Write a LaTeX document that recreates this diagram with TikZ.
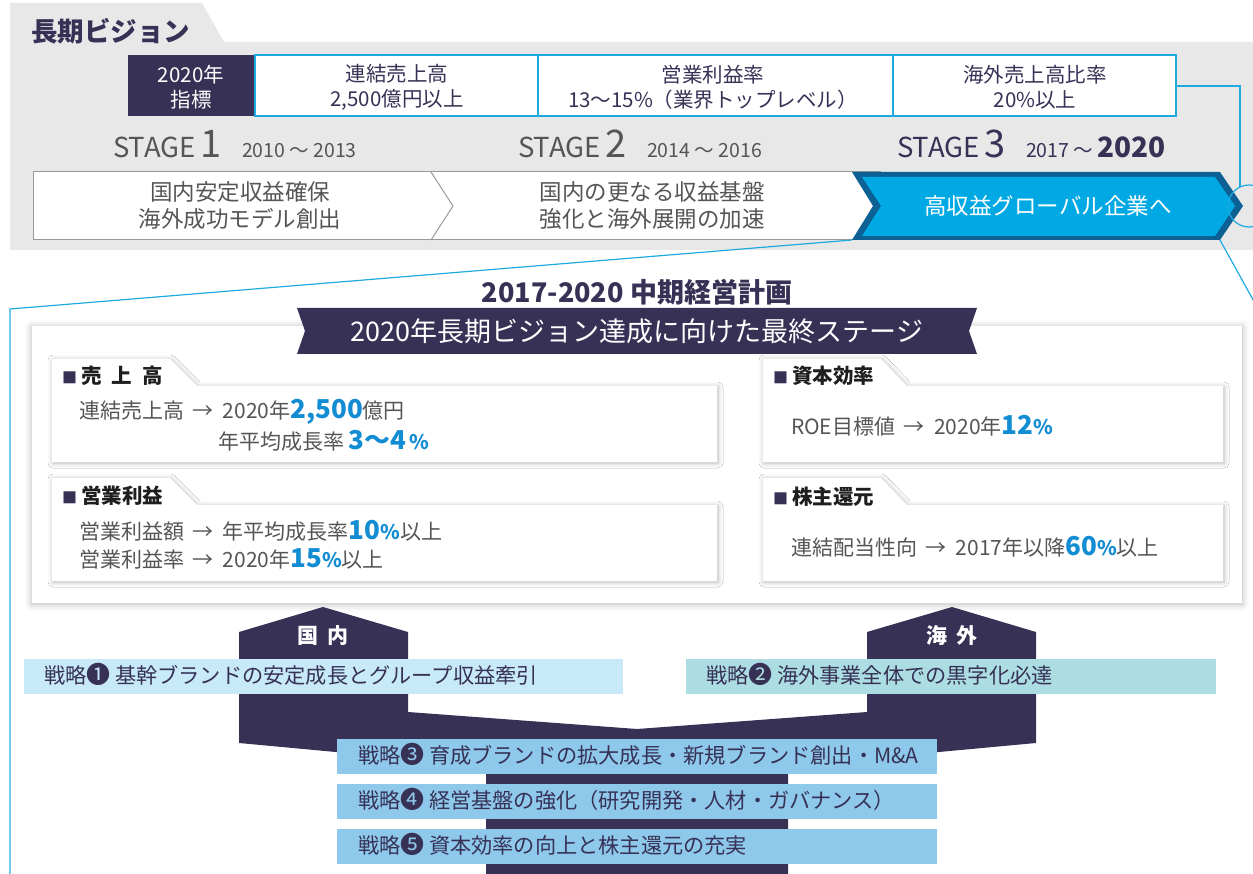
\documentclass[tikz,border=0pt]{standalone}
\usepackage{fontspec}
\setmainfont{Noto Sans CJK JP}
\usetikzlibrary{shadows.blur}
\definecolor{navy}{RGB}{54,49,85}
\definecolor{panelgrey}{RGB}{232,232,232}
\definecolor{lineblue}{RGB}{30,170,225}
\definecolor{arrowblue}{RGB}{0,168,228}
\definecolor{arrowdark}{RGB}{12,96,148}
\definecolor{emph}{RGB}{18,140,210}
\definecolor{txtgray}{RGB}{85,85,85}
\definecolor{headblack}{RGB}{30,30,30}
\definecolor{barone}{RGB}{199,233,248}
\definecolor{bartwo}{RGB}{172,221,226}
\definecolor{barthree}{RGB}{142,200,235}
\newcommand{\myfs}[2]{\fontsize{#1}{#2}\selectfont}
\newcommand{\hiemph}[2]{{\color{emph}\bfseries\myfs{26}{30}#1\myfs{20}{24}#2}}
\newcommand{\toarr}{\hspace{0.4em}→\hspace{0.45em}}
\newcommand{\sqmark}{{\color{navy}\myfs{15}{15}■}\hspace{0.2em}}
\newcommand{\cnum}[1]{{\myfs{24}{24}#1}}
\begin{document}
\begin{tikzpicture}[x=1pt,y=-1pt,
  every node/.style={inner sep=0pt,outer sep=0pt},
  tbl/.style={font=\myfs{20.5}{25},text=navy,align=center},
  stg/.style={anchor=base west,font=\myfs{27.5}{30},text=txtgray},
  yrs/.style={anchor=base west,font=\myfs{19.5}{22},text=txtgray},
  boxtxt/.style={font=\myfs{22.5}{27},text=txtgray,align=center},
  head/.style={anchor=base west,font=\bfseries\myfs{20.5}{24},text=headblack},
  body/.style={anchor=base west,font=\myfs{21}{24},text=txtgray},
  strat/.style={anchor=base west,font=\myfs{21.2}{24},text=navy},
  panelshadow/.style={blur shadow={shadow blur radius=7pt,shadow xshift=0pt,shadow yshift=-1pt,shadow opacity=30}},
  boxshadow/.style={blur shadow={shadow blur radius=5pt,shadow xshift=1pt,shadow yshift=-1pt,shadow opacity=30}},
  bluelink/.style={draw=lineblue,line width=1.2pt}]
\useasboundingbox (0,0) rectangle (1253,874);
\clip (0,0) rectangle (1253,874);
% ---------- top grey panel ----------
\fill[panelgrey] (10,3) -- (202,3) -- (224,42) -- (1253,42) -- (1253,250) -- (10,250) -- cycle;
\node[anchor=base west,font=\bfseries\myfs{26.5}{28},text=navy] (vision) at (31,42) {長期ビジョン};
% table
\fill[navy] (128,55) rectangle (255,116);
\filldraw[fill=white,bluelink] (255,55) rectangle (1176,116);
\draw[bluelink] (538,55) -- (538,116) (893,55) -- (893,116);
\node[tbl,text=white] (k0) at (191,87) {2020年\\指標};
\node[tbl] (k1) at (397,87) {連結売上高\\2,500億円以上};
\node[tbl] (k2) at (713,87) {営業利益率\\13～15\%（業界トップレベル）};
\node[tbl] (k3) at (1035,87) {海外売上高比率\\20\%以上};
% stages
\node[stg] (s1) at (113,158) {STAGE\,{\myfs{38}{40}1}};
\node[yrs] (y1) at (242,158) {2010 ～ 2013};
\node[stg] (s2) at (518,158) {STAGE\,{\myfs{38}{40}2}};
\node[yrs] (y2) at (647,158) {2014 ～ 2016};
\node[stg,text=navy] (s3) at (897,158) {STAGE\,{\myfs{38}{40}3}};
\node[yrs,text=navy] (y3) at (1026,158) {2017 ～ {\bfseries\myfs{28}{30}2020}};
% stage boxes
\filldraw[fill=white,draw=black!40,line width=1pt] (33,172) rectangle (880,240);
\draw[black!40,line width=1pt] (431,172) -- (453,206) -- (431,240);
\node[boxtxt] (b1) at (240,206) {国内安定収益確保\\海外成功モデル創出};
\node[boxtxt] (b2) at (652,206) {国内の更なる収益基盤\\強化と海外展開の加速};
\fill[arrowdark] (852,172) -- (1220,172) -- (1243,206) -- (1220,240) -- (852,240) -- (873,206) -- cycle;
\fill[arrowblue] (862,177) -- (1215,177) -- (1235,206) -- (1215,236) -- (862,236) -- (881,206) -- cycle;
\node[font=\myfs{22.5}{26},text=white] (b3) at (1048,206) {高収益グローバル企業へ};
% blue connectors
\coordinate (tblR) at (1176,86);
\coordinate (bend) at (1240,86);
\node[circle,draw=lineblue,line width=1.2pt,minimum size=42pt] (ring) at (1249,206) {};
\draw[bluelink] (tblR) -- (bend) -- (1240,187);
\coordinate (arrBL) at (852,240);
\coordinate (arrBR) at (1220,240);
\coordinate (leftTop) at (10,309);
\coordinate (leftBot) at (10,880);
\coordinate (rightEnd) at (1262,316);
\draw[bluelink] (arrBL) -- (leftTop) -- (leftBot);
\draw[bluelink] (arrBR) -- (rightEnd);
% ---------- mid-term plan ----------
\node[font=\bfseries\myfs{27}{30},text=navy] (title) at (637,292) {2017-2020 中期経営計画};
\fill[white,panelshadow] (32,326) rectangle (1242,603);
\fill[navy] (297,308) -- (977,308) -- (969,331) -- (977,354) -- (297,354) -- (305,331) -- cycle;
\node[font=\myfs{27}{30},text=white] (banner) at (637,331) {2020年長期ビジョン達成に向けた最終ステージ};
% boxes
\fill[white,boxshadow] (52,359) -- (170,359) -- (197,386) -- (717,386) -- (717,462) -- (52,462) -- cycle;
\fill[white,boxshadow] (52,478) -- (170,478) -- (197,505) -- (717,505) -- (717,581) -- (52,581) -- cycle;
\fill[white,boxshadow] (763,359) -- (881,359) -- (907,386) -- (1223,386) -- (1223,462) -- (763,462) -- cycle;
\fill[white,boxshadow] (763,478) -- (881,478) -- (907,505) -- (1223,505) -- (1223,581) -- (763,581) -- cycle;
\node[head] (h1) at (62,384) {\sqmark 売\hspace{0.5em}上\hspace{0.5em}高};
\node[body] (t1) at (79,419) {連結売上高\toarr 2020年\hiemph{2,500}{}億円};
\node[body] (t2) at (218,449) {年平均成長率 \hiemph{3～4}{\,\%}};
\node[head] (h2) at (62,503) {\sqmark 営業利益};
\node[body] (t3) at (79,539) {営業利益額\toarr 年平均成長率\hiemph{10}{\%}以上};
\node[body] (t4) at (79,567) {営業利益率\toarr 2020年\hiemph{15}{\%}以上};
\node[head] (h3) at (773,384) {\sqmark 資本効率};
\node[body] (t5) at (791,434) {ROE目標値\toarr 2020年\hiemph{12}{\%}};
\node[head] (h4) at (773,504) {\sqmark 株主還元};
\node[body] (t6) at (791,555) {連結配当性向\toarr 2017年以降\hiemph{60}{\%}以上};
% ---------- strategies ----------
\fill[navy] (239,632) -- (323,607) -- (408,632) -- (408,712) -- (637,729) -- (867,712) -- (867,632) -- (952,607) -- (1036,632) -- (1036,743) -- (788,766) -- (788,880) -- (486,880) -- (486,766) -- (239,743) -- cycle;
\node[font=\bfseries\myfs{21}{24},text=white] (dom) at (323,636) {国\hspace{0.45em}内};
\node[font=\bfseries\myfs{21}{24},text=white] (ovs) at (952,636) {海\hspace{0.45em}外};
\fill[barone] (24,659) rectangle (623,694);
\fill[bartwo] (686,659) rectangle (1216,694);
\fill[barthree] (337,739) rectangle (937,774);
\fill[barthree] (337,784) rectangle (937,819);
\fill[barthree] (337,829) rectangle (937,864);
\node[strat] (st1) at (44,683) {戦略\cnum{❶} 基幹ブランドの安定成長とグループ収益牽引};
\node[strat] (st2) at (706,683) {戦略\cnum{❷} 海外事業全体での黒字化必達};
\node[strat] (st3) at (358,763) {戦略\cnum{❸} 育成ブランドの拡大成長・新規ブランド創出・M\&A};
\node[strat] (st4) at (358,808) {戦略\cnum{❹} 経営基盤の強化（研究開発・人材・ガバナンス）};
\node[strat] (st5) at (358,853) {戦略\cnum{❺} 資本効率の向上と株主還元の充実};
\end{tikzpicture}
\end{document}
